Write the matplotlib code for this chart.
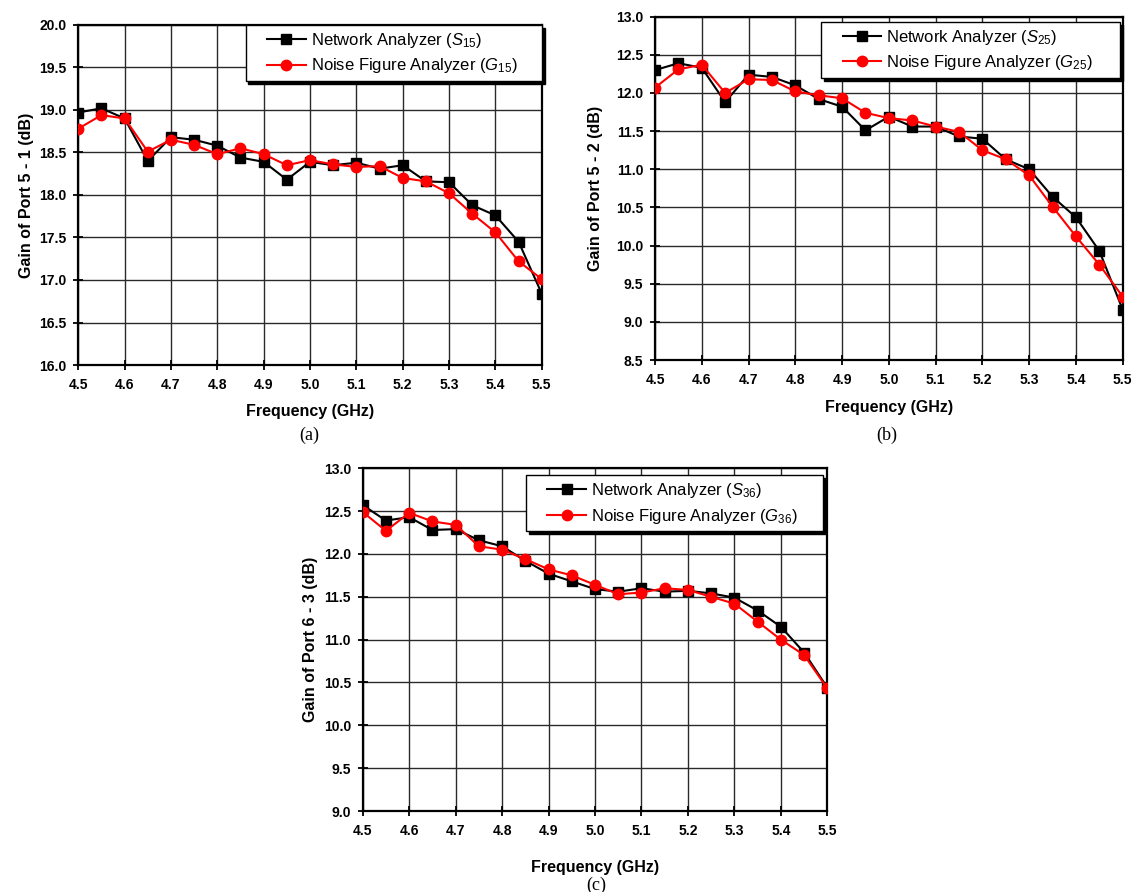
import numpy as np
import matplotlib
matplotlib.use("Agg")
import matplotlib.pyplot as plt
from matplotlib.legend_handler import HandlerLine2D

plt.rcParams['font.family'] = ['Liberation Sans', 'DejaVu Sans']
plt.rcParams['mathtext.fontset'] = 'custom'
plt.rcParams['mathtext.rm'] = 'Liberation Sans'
plt.rcParams['mathtext.it'] = 'Liberation Sans:italic'

# Frequency points (GHz)
freq = [4.5, 4.55, 4.6, 4.65, 4.7, 4.75, 4.8, 4.85, 4.9, 4.95, 5.0,
        5.05, 5.1, 5.15, 5.2, 5.25, 5.3, 5.35, 5.4, 5.45, 5.5]

# (a) Port 5 - 1
s15 = [18.97, 19.02, 18.90, 18.40, 18.68, 18.65, 18.58, 18.44, 18.39, 18.18, 18.39,
       18.35, 18.38, 18.31, 18.35, 18.16, 18.15, 17.88, 17.76, 17.45, 16.84]
g15 = [18.78, 18.94, 18.90, 18.51, 18.65, 18.59, 18.48, 18.55, 18.48, 18.35, 18.41,
       18.36, 18.33, 18.34, 18.20, 18.16, 18.02, 17.78, 17.56, 17.22, 17.01]

# (b) Port 5 - 2
s25 = [12.30, 12.39, 12.33, 11.88, 12.24, 12.21, 12.10, 11.92, 11.82, 11.51, 11.69,
       11.56, 11.56, 11.43, 11.40, 11.13, 11.00, 10.64, 10.37, 9.93, 9.16]
g25 = [12.07, 12.31, 12.37, 12.00, 12.18, 12.17, 12.02, 11.97, 11.93, 11.74, 11.67,
       11.64, 11.56, 11.49, 11.25, 11.13, 10.92, 10.51, 10.12, 9.75, 9.33]

# (c) Port 6 - 3
s36 = [12.57, 12.39, 12.43, 12.28, 12.29, 12.16, 12.09, 11.92, 11.77, 11.68, 11.59,
       11.56, 11.60, 11.56, 11.57, 11.54, 11.49, 11.34, 11.15, 10.85, 10.44]
g36 = [12.49, 12.27, 12.48, 12.38, 12.34, 12.09, 12.05, 11.94, 11.82, 11.75, 11.64,
       11.53, 11.55, 11.60, 11.58, 11.50, 11.42, 11.21, 11.00, 10.82, 10.43]

fig = plt.figure(figsize=(11.36, 8.92), dpi=100)

panels = [
    # rect, S, G, subscript, ylabel, ylim, caption, caption pos, legend box, xpad, ypad
    ([0.0689, 0.5908, 0.408, 0.3812], s15, g15, '15', 'Gain of Port 5 - 1 (dB)',
     (16.0, 20.0), '(a)', (0.272, 0.5123), (0.361, 0, 0.639, 1.0), 8.5, 4),
    ([0.5766, 0.5964, 0.4117, 0.3849], s25, g25, '25', 'Gain of Port 5 - 2 (dB)',
     (8.5, 13.0), '(b)', (0.781, 0.5123), (0.355, 0, 0.639, 0.985), 9.5, 9),
    ([0.3193, 0.0908, 0.409, 0.3842], s36, g36, '36', 'Gain of Port 6 - 3 (dB)',
     (9.0, 13.0), '(c)', (0.5246, 0.008), (0.351, 0, 0.64, 0.98), 16, 4),
]

for rect, s, g, sub, ylab, ylim, cap, cpos, lbox, xpad, ypad in panels:
    ax = fig.add_axes(rect)
    ax.plot(freq, s, color='black', lw=1.5, marker='s', ms=6.5,
            label=r'Network Analyzer ($\mathit{S}_{' + sub + '}$)', zorder=3)
    ax.plot(freq, g, color='red', lw=1.5, marker='o', ms=7.5,
            label=r'Noise Figure Analyzer ($\mathit{G}_{' + sub + '}$)', zorder=4)
    ax.set_xlim(4.5, 5.5)
    ax.set_ylim(*ylim)
    ax.set_xticks(np.arange(4.5, 5.51, 0.1))
    ax.set_yticks(np.arange(ylim[0], ylim[1] + 0.01, 0.5))
    ax.xaxis.set_major_formatter(matplotlib.ticker.FormatStrFormatter('%.1f'))
    ax.yaxis.set_major_formatter(matplotlib.ticker.FormatStrFormatter('%.1f'))
    ax.grid(True, color='#2a2a2a', lw=1.0)
    ax.tick_params(direction='inout', length=7, width=1.3, labelsize=10)
    ax.tick_params(axis='x', pad=6)
    ax.tick_params(axis='y', pad=5)
    for lbl in ax.get_xticklabels() + ax.get_yticklabels():
        lbl.set_fontweight('bold')
    for sp in ax.spines.values():
        sp.set_linewidth(1.6)
    ax.set_xlabel('Frequency (GHz)', fontsize=11.5, fontweight='bold', labelpad=xpad)
    ax.set_ylabel(ylab, fontsize=11.5, fontweight='bold', labelpad=ypad)
    ax.legend(loc='upper right', bbox_to_anchor=lbox, mode='expand', borderaxespad=0,
              fontsize=12, frameon=True, fancybox=False, edgecolor='black',
              framealpha=1, handlelength=3.25, handletextpad=0.3,
              borderpad=0.35, labelspacing=0.4,
              handler_map={matplotlib.lines.Line2D: HandlerLine2D(xpad=0.95)},
              shadow={'color': 'black', 'alpha': 1})
    fig.text(cpos[0], cpos[1], cap, fontsize=13, family='Liberation Serif',
             ha='center', va='center')

fig.savefig('out.png', dpi=100)
